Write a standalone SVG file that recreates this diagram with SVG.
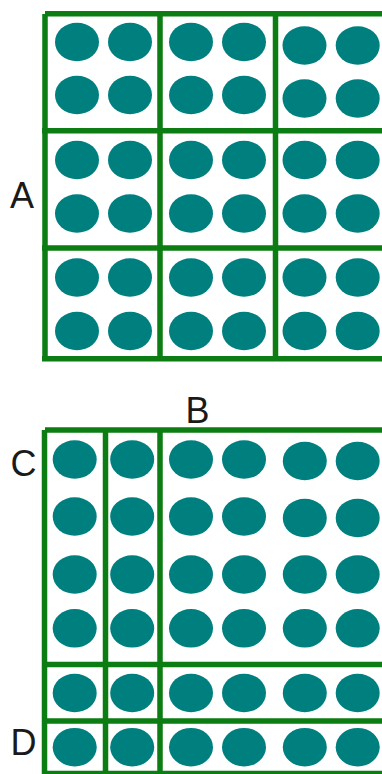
<svg xmlns="http://www.w3.org/2000/svg" width="382" height="774" viewBox="0 0 382 774">
<defs>
<style>
.ln{stroke:#0b7d12;stroke-width:5.5;fill:none;stroke-linecap:butt}
.c{fill:#007f7f}
.lb{font-family:"Liberation Sans",Arial,sans-serif;font-size:36px;fill:#1a1a1a}
</style>
<ellipse id="d" class="c" cx="0" cy="0" rx="22" ry="19.3"/>
</defs>
<rect width="382" height="774" fill="#fff"/>
<g id="labels">
<text class="lb" x="10" y="207.5">A</text>
<text class="lb" x="185.5" y="423">B</text>
<text class="lb" x="10.5" y="476">C</text>
<text class="lb" x="10.5" y="755">D</text>
</g>
<g id="top-grid">
<g id="top-lines">
<line class="ln" x1="45" y1="13.8" x2="390" y2="13.8"/>
<line class="ln" x1="45" y1="14" x2="45" y2="361"/>
<line class="ln" x1="160" y1="14" x2="160" y2="361"/>
<line class="ln" x1="275.5" y1="14" x2="275.5" y2="361"/>
<line class="ln" x1="42" y1="130.8" x2="390" y2="130.8"/>
<line class="ln" x1="42" y1="248" x2="390" y2="248"/>
<line class="ln" x1="42" y1="358.8" x2="390" y2="358.8"/>
</g>
<g id="top-dots">
<use href="#d" x="77" y="42"/><use href="#d" x="130" y="42"/>
<use href="#d" x="77" y="95"/><use href="#d" x="130" y="95"/>
<use href="#d" x="191" y="42"/><use href="#d" x="244" y="42"/>
<use href="#d" x="191" y="95"/><use href="#d" x="244" y="95"/>
<use href="#d" x="304.5" y="45.5"/><use href="#d" x="357.7" y="45.5"/>
<use href="#d" x="304.5" y="98.5"/><use href="#d" x="357.7" y="98.5"/>
<use href="#d" x="77" y="160"/><use href="#d" x="130" y="160"/>
<use href="#d" x="77" y="213.5"/><use href="#d" x="130" y="213.5"/>
<use href="#d" x="191" y="160"/><use href="#d" x="244" y="160"/>
<use href="#d" x="191" y="213.5"/><use href="#d" x="244" y="213.5"/>
<use href="#d" x="304.5" y="160"/><use href="#d" x="357.7" y="160"/>
<use href="#d" x="304.5" y="213.5"/><use href="#d" x="357.7" y="213.5"/>
<use href="#d" x="77" y="277.5"/><use href="#d" x="130" y="277.5"/>
<use href="#d" x="77" y="331"/><use href="#d" x="130" y="331"/>
<use href="#d" x="191" y="277.5"/><use href="#d" x="244" y="277.5"/>
<use href="#d" x="191" y="331"/><use href="#d" x="244" y="331"/>
<use href="#d" x="304.5" y="277.5"/><use href="#d" x="357.7" y="277.5"/>
<use href="#d" x="304.5" y="331"/><use href="#d" x="357.7" y="331"/>
</g>
</g>
<g id="bottom-grid">
<g id="bottom-lines">
<line class="ln" x1="45" y1="430" x2="390" y2="430"/>
<line class="ln" x1="44.5" y1="430" x2="44.5" y2="780"/>
<line class="ln" x1="105.5" y1="430" x2="105.5" y2="780"/>
<line class="ln" x1="160" y1="430" x2="160" y2="780"/>
<line class="ln" x1="42" y1="664.5" x2="390" y2="664.5"/>
<line class="ln" x1="42" y1="721" x2="390" y2="721"/>
<line class="ln" x1="42" y1="773.5" x2="390" y2="773.5"/>
</g>
<g id="bottom-dots">
<use href="#d" x="74.7" y="459.5"/><use href="#d" x="132.2" y="459.5"/><use href="#d" x="191" y="459.5"/><use href="#d" x="244" y="459.5"/><use href="#d" x="304.8" y="461"/><use href="#d" x="357.7" y="461"/>
<use href="#d" x="74.7" y="516.5"/><use href="#d" x="132.2" y="516.5"/><use href="#d" x="191" y="516.5"/><use href="#d" x="244" y="516.5"/><use href="#d" x="304.8" y="518"/><use href="#d" x="357.7" y="518"/>
<use href="#d" x="74.7" y="574.5"/><use href="#d" x="132.2" y="574.5"/><use href="#d" x="191" y="574.5"/><use href="#d" x="244" y="574.5"/><use href="#d" x="304.8" y="574.5"/><use href="#d" x="357.7" y="574.5"/>
<use href="#d" x="74.7" y="628.3"/><use href="#d" x="132.2" y="628.3"/><use href="#d" x="191" y="628.3"/><use href="#d" x="244" y="628.3"/><use href="#d" x="304.8" y="628.3"/><use href="#d" x="357.7" y="628.3"/>
<use href="#d" x="74.7" y="693"/><use href="#d" x="132.2" y="693"/><use href="#d" x="191" y="693"/><use href="#d" x="244" y="693"/><use href="#d" x="304.8" y="693"/><use href="#d" x="357.7" y="693"/>
<use href="#d" x="74.7" y="747.2"/><use href="#d" x="132.2" y="747.2"/><use href="#d" x="191" y="747.2"/><use href="#d" x="244" y="747.2"/><use href="#d" x="304.8" y="747.2"/><use href="#d" x="357.7" y="747.2"/>
</g>
</g>
</svg>
